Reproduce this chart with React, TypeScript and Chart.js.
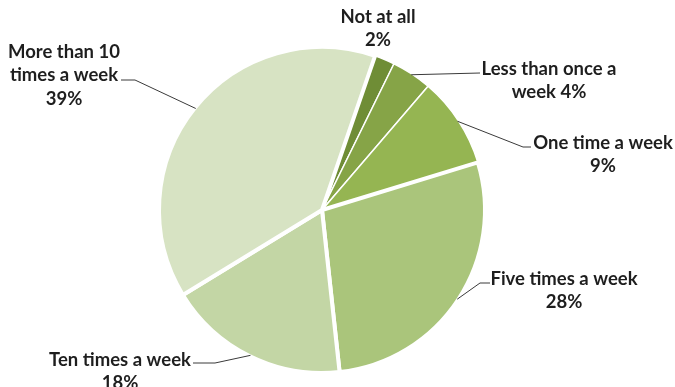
import React, { useEffect, useRef } from "react";
import { Chart, registerables } from "chart.js";

Chart.register(...registerables);

const categories = [
  "Not at all",
  "Less than once a week",
  "One time a week",
  "Five times a week",
  "Ten times a week",
  "More than 10 times a week",
];
const values = [2, 4, 9, 28, 18, 39];
const labelLines = [
  ["Not at all", "2%"],
  ["Less than once a", "week 4%"],
  ["One time a week", "9%"],
  ["Five times a week", "28%"],
  ["Ten times a week", "18%"],
  ["More than 10", "times a week", "39%"],
];
const colors = ["#6f8d36", "#86a447", "#95b552", "#aac57b", "#c3d6a5", "#d7e3c3"];
const borderWidths = [1.5, 1.5, 1.5, 4, 4, 4];

// label layout: text centre x, first line centre y, elbow points for leader (null = no leader)
const labelLayout = [
  { x: 378, y: 17, leader: null as number[][] | null },
  { x: 549, y: 69, leader: [[480, 73], [480, 73]] },
  { x: 603, y: 143, leader: [[523, 147], [531, 147]] },
  { x: 564, y: 279, leader: [[480, 283], [490, 283]] },
  { x: 120, y: 360, leader: [[215, 363], [193, 363]] },
  { x: 64, y: 52, leader: [[135, 80], [121, 80]] },
];

const labelPlugin = {
  id: "pieLabels",
  afterDatasetsDraw(chart: any) {
    const ctx = chart.ctx;
    const meta = chart.getDatasetMeta(0);
    ctx.save();
    meta.data.forEach((arc: any, i: number) => {
      const p = arc.getProps(["x", "y", "startAngle", "endAngle", "outerRadius"], true);
      const mid = (p.startAngle + p.endAngle) / 2;
      const sx = p.x + Math.cos(mid) * (p.outerRadius - 1);
      const sy = p.y + Math.sin(mid) * (p.outerRadius - 1);
      const lay = labelLayout[i];
      if (lay.leader) {
        ctx.beginPath();
        ctx.strokeStyle = "#3a3a3a";
        ctx.lineWidth = 1;
        ctx.moveTo(sx, sy);
        lay.leader.forEach((pt) => ctx.lineTo(pt[0], pt[1]));
        ctx.stroke();
      }
      ctx.fillStyle = "#1e1e1e";
      ctx.font = "bold 18.5px Lato, 'Liberation Sans', sans-serif";
      ctx.textAlign = "center";
      ctx.textBaseline = "middle";
      labelLines[i].forEach((line, j) => {
        ctx.fillText(line, lay.x, lay.y + j * 23.5);
      });
    });
    ctx.restore();
  },
};

export default function App() {
  const ref = useRef<HTMLCanvasElement>(null);
  useEffect(() => {
    document.body.style.margin = "0";
    const chart = new Chart(ref.current!, {
      type: "pie",
      data: {
        labels: categories,
        datasets: [
          {
            data: values,
            backgroundColor: colors,
            borderColor: "#ffffff",
            borderWidth: borderWidths,
          },
        ],
      },
      options: {
        animation: false,
        responsive: false,
        rotation: 19,
        layout: { padding: { top: 45, bottom: 12, left: 157, right: 188 } },
        plugins: {
          legend: { display: false },
          tooltip: { enabled: false },
        },
      },
      plugins: [labelPlugin],
    });
    return () => chart.destroy();
  }, []);
  return (
    <div style={{ width: 675, height: 387, background: "#fff" }}>
      <canvas ref={ref} width={675} height={387} style={{ display: "block" }} />
    </div>
  );
}
